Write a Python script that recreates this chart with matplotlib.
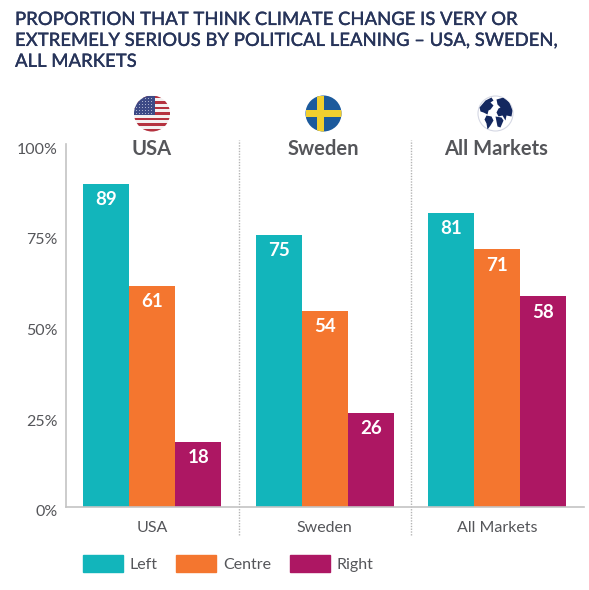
import matplotlib
matplotlib.use("Agg")
import matplotlib.pyplot as plt
import matplotlib.patheffects as pe
import matplotlib.transforms as mtrans
from matplotlib.patches import Circle, Patch, Polygon, Rectangle
import numpy as np

markets = ["USA", "Sweden", "All Markets"]
leanings = ["Left", "Centre", "Right"]
left_values = [89, 75, 81]
centre_values = [61, 54, 71]
right_values = [18, 26, 58]
y_ticks = [0, 25, 50, 75, 100]
y_tick_labels = ["0%", "25%", "50%", "75%", "100%"]
title_lines = "PROPORTION THAT THINK CLIMATE CHANGE IS VERY OR\nEXTREMELY SERIOUS BY POLITICAL LEANING – USA, SWEDEN,\nALL MARKETS"

colors = ["#12b5bb", "#f4762f", "#ad1763"]
text_color = "#55565a"
title_color = "#27345a"
W, H = 589, 590

plt.rcParams["font.family"] = ["Lato", "DejaVu Sans"]


def draw_usa(ax, cx, cy, r):
    clip = Circle((cx, cy), r, transform=ax.transData)
    ax.add_patch(Circle((cx, cy), r, color="#f4f0f0", lw=0))
    for i in range(13):
        if i % 2 == 0:
            band = Rectangle((cx - r, cy - r + i * 2 * r / 13), 2 * r, 2 * r / 13, color="#b5323f", lw=0)
            band.set_clip_path(clip)
            ax.add_patch(band)
    canton = Rectangle((cx - r, cy - r), r * 1.15, r * 1.08, color="#3d4a86", lw=0)
    canton.set_clip_path(clip)
    ax.add_patch(canton)
    # stars are only specks at this size
    for sx in np.arange(cx - r + 2, cx + 0.2, 3):
        for sy in np.arange(cy - r + 2, cy + 0.2, 3):
            if (sx - cx) ** 2 + (sy - cy) ** 2 < r ** 2:
                ax.plot(sx, sy, ".", color="#c9cde2", markersize=1.2, mew=0)


def draw_sweden(ax, cx, cy, r):
    clip = Circle((cx, cy), r, transform=ax.transData)
    ax.add_patch(Circle((cx, cy), r, color="#1c5a9c", lw=0))
    for rect in [(cx - 6.5, cy - r, 6.5, 2 * r), (cx - r, cy - 3.2, 2 * r, 6.5)]:
        cross = Rectangle(rect[:2], rect[2], rect[3], color="#f2cf2e", lw=0)
        cross.set_clip_path(clip)
        ax.add_patch(cross)


def draw_globe(ax, cx, cy, r):
    clip = Circle((cx, cy), r, transform=ax.transData)
    ax.add_patch(Circle((cx, cy), r, facecolor="white", edgecolor="#d5d8e4", lw=0.8))
    navy = "#14285f"
    land = [
        [(-16, -6), (-10, -13), (-4, -16), (-2, -13), (-5, -11), (-2, -8), (-5, -4), (-7, -3), (-8, 1), (-12, -1), (-15, -2)],
        [(-9, 2), (-4, 3), (-2, 7), (-5, 12), (-8, 16), (-9, 10), (-11, 6)],
        [(1, -14), (8, -16), (14, -11), (17, -3), (16, 3), (11, 2), (10, 7), (7, 2), (3, 3), (1, -1), (3, -5), (5, -6), (2, -9)],
        [(0, 3), (6, 4), (8, 7), (5, 14), (2, 13), (1, 8)],
    ]
    for shape in land:
        poly = Polygon([(cx + x, cy + y) for x, y in shape], closed=True, color=navy, lw=0)
        poly.set_clip_path(clip)
        ax.add_patch(poly)


fig = plt.figure(figsize=(W / 100, H / 100), dpi=100)
ax = fig.add_axes([66 / W, 1 - 507 / H, 517.5 / W, 363 / H])

x = np.arange(len(markets))
bar_width = 0.267
for i, (name, values) in enumerate(zip(leanings, [left_values, centre_values, right_values])):
    bars = ax.bar(x + (i - 1) * bar_width, values, bar_width, color=colors[i], label=name)
    for bar, value in zip(bars, values):
        ax.annotate(str(value), (bar.get_x() + bar.get_width() / 2, value), xytext=(0, -11.5),
                    textcoords="offset points", ha="center", va="center",
                    color="white", fontsize=13.5, fontweight="bold")

ax.set_xlim(-0.5, 2.5)
ax.set_ylim(0, 100)
for side in ["top", "right"]:
    ax.spines[side].set_visible(False)
for side in ["left", "bottom"]:
    ax.spines[side].set_color("#c4c4c4")
    ax.spines[side].set_linewidth(1.2)

ax.set_yticks(y_ticks, y_tick_labels, fontsize=11.5, color=text_color)
ax.set_xticks(x, markets, fontsize=11.5, color=text_color)
ax.tick_params(length=0)
ax.tick_params(axis="x", pad=10)
ax.tick_params(axis="y", pad=6)
# y labels sit a little under their gridline position
shift = mtrans.ScaledTranslation(0, -4 / 100, fig.dpi_scale_trans)
for label in ax.get_yticklabels():
    label.set_transform(label.get_transform() + shift)

for pos in [0.5, 1.5]:
    ax.plot([pos, pos], [-7.8, 101], color="#b5b5b5", lw=1, ls=(0, (1, 1)), clip_on=False)

for pos, name in zip(x, markets):
    ax.text(pos - 0.006, 98.5, name, ha="center", va="center", fontsize=14.5, fontweight="bold", color=text_color)

title = fig.text(15 / W, 1 - 12 / H, title_lines, ha="left", va="top", fontsize=13.3, color=title_color,
                 fontweight="medium", linespacing=1.38)
title.set_path_effects([pe.withStroke(linewidth=0.15, foreground=title_color)])

handles = [Patch(color=c, label=n) for c, n in zip(colors, leanings)]
fig.legend(handles=handles, loc="lower left", bbox_to_anchor=(83 / W, 1 - 572 / H), ncol=3, frameon=False,
           fontsize=11.5, labelcolor=text_color, handlelength=2.5, handleheight=1.2,
           handletextpad=0.44, columnspacing=1.15, borderaxespad=0, borderpad=0)

# flag and globe icons, laid out in pixel coordinates
icons = fig.add_axes([0, 0, 1, 1], facecolor="none")
icons.set_xlim(0, W)
icons.set_ylim(H, 0)
icons.axis("off")
draw_usa(icons, 152, 113.5, 18)
draw_sweden(icons, 323.5, 113.5, 18)
draw_globe(icons, 495.5, 113.5, 17.5)

fig.savefig("out.png", dpi=100)
